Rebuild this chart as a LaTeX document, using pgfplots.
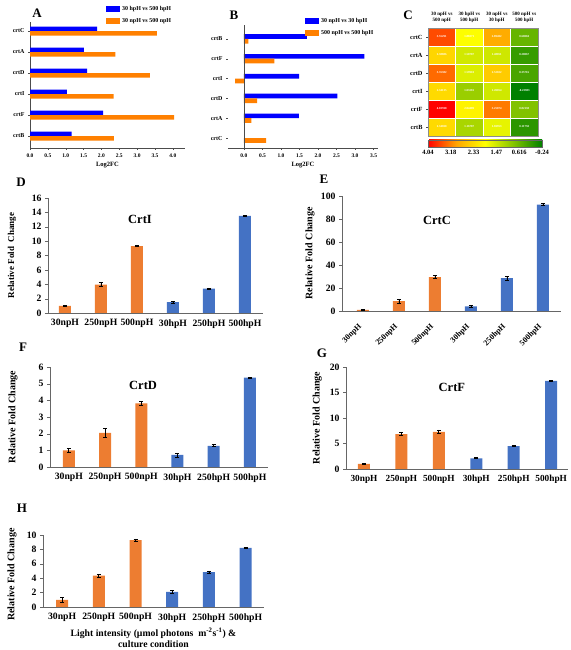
\documentclass[border=0pt]{standalone}
\usepackage{pgfplots}
\usepackage{pgfplotstable}
\pgfplotsset{compat=1.18}
\usepackage{fontspec}
\setmainfont{Liberation Serif}
\definecolor{xlorange}{RGB}{237,125,49}
\definecolor{xlblue}{RGB}{68,114,196}
\definecolor{pblue}{RGB}{0,0,255}
\definecolor{porange}{RGB}{255,128,0}

% rows: 0 crtC, 1 crtA, 2 crtD, 3 crtI, 4 crtF, 5 crtB (top to bottom)
\pgfplotstableread{
x y c t
0 0 3.55291 3.55291
1 0 1.88271 1.88271
2 0 2.89402 2.89402
3 0 0.60004 0.60004
0 1 2.38886 2.38886
1 1 1.50787 1.50787
2 1 1.48051 1.48051
3 1 0.20067 0.20067
0 2 3.35382 3.35382
1 2 1.59910 1.59910
2 2 2.52022 2.52022
3 2 0.35716 0.35716
0 3 2.34135 2.34135
1 3 1.03281 1.03281
2 3 1.49054 1.49054
3 3 -0.23983 -0.23983
0 4 4.03590 4.03590
1 4 2.04489 2.04489
2 4 3.25074 3.25074
3 4 0.82138 0.82138
0 5 2.34690 2.34690
1 5 1.16787 1.16787
2 5 1.69953 1.69953
3 5 0.11750 0.11750
}\heatdata

\pgfplotsset{
  /pgf/number format/assume math mode=true,
  smallpanel/.style={
    scale only axis, anchor=south west,
    axis lines=left, x axis line style={-,black!70}, y axis line style={-,black!70},
    tick align=outside, major tick length=2pt, minor tick length=1pt,
    tick style={black!70},
    tick label style={font=\fontsize{5.5}{6}\selectfont\bfseries},
    xticklabel style={/pgf/number format/.cd, fixed, fixed zerofill, precision=1},
    yticklabel style={font=\fontsize{6}{6}\selectfont\bfseries},
    xlabel={Log2FC}, xlabel style={font=\fontsize{6.5}{7}\selectfont\bfseries, yshift=2pt},
    ytick={0,...,5}, minor x tick num=1,
    legend style={draw=none, fill=none, anchor=north west, inner sep=0pt,
      font=\fontsize{6}{6}\selectfont\bfseries, row sep=2pt},
    legend cell align=left,
    legend image code/.code={\fill[##1] (0pt,-3pt) rectangle (14pt,3pt);},
  },
  barpanel/.style={
    scale only axis, anchor=south west,
    axis lines=left, x axis line style={-,black!60}, y axis line style={-,black!60},
    tick align=outside, major tick length=3pt,
    ytick style={black!60}, xtick style={draw=none},
    ymin=0,
    xtick={0,...,5},
    xticklabels={30npH,250npH,500npH,30hpH,250hpH,500hpH},
    tick label style={font=\fontsize{9.7}{10}\selectfont\bfseries},
    ylabel={Relative Fold Change},
    ylabel style={font=\fontsize{10}{10}\selectfont\bfseries, anchor=center},
    error bars/error bar style={black, line width=0.8pt},
    error bars/error mark options={rotate=90, mark size=2pt, black, line width=0.8pt},
  },
  obar/.style={ybar, bar width=12pt, bar shift=0pt, fill=xlorange, draw=none,
    error bars/.cd, y dir=both, y explicit},
  bbar/.style={ybar, bar width=12pt, bar shift=0pt, fill=xlblue, draw=none,
    error bars/.cd, y dir=both, y explicit},
}

\begin{document}
\begin{tikzpicture}
\useasboundingbox (0,0) rectangle (570pt,650pt);

% ---------- Panel A ----------
\begin{axis}[smallpanel, at={(30pt,502pt)}, width=155pt, height=126pt,
  xmin=0, xmax=4.34, ymin=-0.57, ymax=5.43,
  xtick={0,0.5,...,4},
  yticklabels={crtB,crtF,crtI,crtD,crtA,crtC},
  legend style={at={(0.49,1.14)}}]
\addplot[xbar, bar width=4.5pt, bar shift=2.25pt, fill=pblue, draw=none]
  coordinates {(1.16787,0) (2.04489,1) (1.03281,2) (1.59910,3) (1.50787,4) (1.88271,5)};
\addplot[xbar, bar width=4.5pt, bar shift=-2.25pt, fill=porange, draw=none]
  coordinates {(2.34690,0) (4.03590,1) (2.34135,2) (3.35382,3) (2.38886,4) (3.55291,5)};
\legend{30 hpH vs 500 hpH, 30 npH vs 500 npH}
\end{axis}

% ---------- Panel B ----------
\begin{axis}[smallpanel, at={(228pt,502pt)}, width=150pt, height=123pt,
  xmin=-0.43, xmax=3.62, ymin=-0.5, ymax=5.7,
  y axis line style={draw=none},
  xtick={0,0.5,...,3.5},
  yticklabels={crtC,crtA,crtD,crtI,crtF,crtB},
  legend style={at={(0.513,1.07)}}]
\addplot[xbar, bar width=4.7pt, bar shift=2.35pt, fill=pblue, draw=none]
  coordinates {(1.48051,1) (2.52022,2) (1.49054,3) (3.25074,4) (1.69953,5)};
\addplot[xbar, bar width=4.7pt, bar shift=-2.35pt, fill=porange, draw=none]
  coordinates {(0.60004,0) (0.20067,1) (0.35716,2) (-0.23983,3) (0.82138,4) (0.11750,5)};
\legend{30 npH vs 30 hpH, 500 npH vs 500 hpH}
\draw[black!70] (axis cs:0,-0.5) -- (axis cs:0,5.7);
\end{axis}

% ---------- Panel C ----------
\begin{axis}[scale only axis, anchor=south west, at={(428pt,514pt)},
  width=110pt, height=108pt,
  xmin=-0.5, xmax=3.5, ymin=-0.5, ymax=5.5, y dir=reverse,
  axis on top, axis line style={black!45},
  colormap={heat}{rgb255(0cm)=(0,128,0); rgb255(1cm)=(130,195,0); rgb255(2cm)=(255,255,0); rgb255(3cm)=(255,165,0); rgb255(4cm)=(255,0,0)},
  point meta min=-0.24, point meta max=4.04,
  xtick={0,...,3},
  xticklabels={{30 npH vs\\500 npH},{30 hpH vs\\500 hpH},{30 npH vs\\30 hpH},{500 npH vs\\500 hpH}},
  xticklabel pos=right, xtick style={draw=none},
  xticklabel style={align=center, font=\fontsize{5}{5.5}\selectfont\bfseries},
  ytick={0,...,5}, yticklabels={crtC,crtA,crtD,crtI,crtF,crtB},
  ytick pos=left, tick align=outside, major tick length=2pt, ytick style={black!70},
  yticklabel style={font=\fontsize{6.3}{7}\selectfont\bfseries},
  colorbar horizontal,
  colorbar style={at={(0,-0.037)}, anchor=north west, scale only axis,
    width=114pt, height=7pt, x dir=reverse,
    xtick={4.04,3.184,2.328,1.472,0.616,-0.24},
    xticklabels={4.04,3.18,2.33,1.47,0.616,-0.24},
    xticklabel style={font=\fontsize{6.5}{7}\selectfont\bfseries},
    xtick style={draw=none}, axis line style={black!60}},
  ]
\addplot[matrix plot, mesh/cols=4, point meta=explicit, draw=white, line width=0.6pt]
  table[x=x, y=y, meta=c]{\heatdata};
\addplot[draw=none, mark=none, nodes near coords, point meta=explicit symbolic,
  every node near coord/.style={anchor=center, text=white, font=\fontsize{3}{3}\selectfont\bfseries}]
  table[x=x, y=y, meta=t]{\heatdata};
\end{axis}

% ---------- Panel D: CrtI ----------
\begin{axis}[barpanel, at={(48pt,337pt)}, width=215pt, height=115pt,
  xmin=-0.47, xmax=5.5, ymax=16, ytick={0,2,...,16},
  ylabel={Relative Fold\ \ Change},
  ylabel style={at={(axis description cs:-0.167,0.5)}, font=\fontsize{9}{9}\selectfont\bfseries}]
\addplot[obar] coordinates {(0,1.0) +- (0,0.12) (1,3.95) +- (0,0.3) (2,9.3) +- (0,0.1)};
\addplot[bbar] coordinates {(3,1.5) +- (0,0.12) (4,3.4) +- (0,0.08) (5,13.5) +- (0,0.06)};
\node[font=\fontsize{12.5}{13}\selectfont\bfseries] at (rel axis cs:0.428,0.81) {CrtI};
\end{axis}

% ---------- Panel E: CrtC ----------
\begin{axis}[barpanel, at={(342pt,339pt)}, width=219pt, height=115pt,
  xmin=-0.58, xmax=5.5, ymax=100, ytick={0,20,...,100},
  xticklabel style={yshift=-9pt, rotate=45, anchor=east, font=\fontsize{8}{8}\selectfont\bfseries},
  ylabel style={at={(axis description cs:-0.146,0.5)}}]
\addplot[obar] coordinates {(0,1.0) +- (0,0.3) (1,8.5) +- (0,1.5) (2,29.5) +- (0,1.5)};
\addplot[bbar] coordinates {(3,4.0) +- (0,1.0) (4,28.5) +- (0,1.5) (5,92.5) +- (0,1.0)};
\node[font=\fontsize{12.5}{13}\selectfont\bfseries] at (rel axis cs:0.434,0.79) {CrtC};
\end{axis}

% ---------- Panel F: CrtD ----------
\begin{axis}[barpanel, at={(50pt,183pt)}, width=218pt, height=100pt,
  xmin=-0.52, xmax=5.5, ymax=6, ytick={0,...,6},
  ylabel style={at={(axis description cs:-0.17,0.5)}}]
\addplot[obar] coordinates {(0,1.0) +- (0,0.12) (1,2.05) +- (0,0.25) (2,3.82) +- (0,0.12)};
\addplot[bbar] coordinates {(3,0.72) +- (0,0.12) (4,1.27) +- (0,0.06) (5,5.37) +- (0,0.03)};
\node[font=\fontsize{12.5}{13}\selectfont\bfseries] at (rel axis cs:0.427,0.82) {CrtD};
\end{axis}

% ---------- Panel G: CrtF ----------
\begin{axis}[barpanel, at={(346pt,181pt)}, width=222pt, height=102pt,
  xmin=-0.48, xmax=5.45, ymax=20, ytick={0,5,...,20},
  xticklabel style={font=\fontsize{9.3}{10}\selectfont\bfseries},
  ylabel style={at={(axis description cs:-0.13,0.5)}}]
\addplot[obar] coordinates {(0,1.0) +- (0,0.15) (1,6.85) +- (0,0.35) (2,7.3) +- (0,0.35)};
\addplot[bbar] coordinates {(3,2.1) +- (0,0.12) (4,4.5) +- (0,0.15) (5,17.3) +- (0,0.05)};
\node[font=\fontsize{12.5}{13}\selectfont\bfseries] at (rel axis cs:0.477,0.80) {CrtF};
\end{axis}

% ---------- Panel H: CrtA ----------
\begin{axis}[barpanel, at={(43pt,43pt)}, width=221pt, height=72pt,
  xmin=-0.52, xmax=5.5, ymax=10, ytick={0,2,...,10},
  ylabel style={at={(axis description cs:-0.14,0.45)}},
  xlabel={Light intensity (µmol photons\ \ m\textsuperscript{-2}s\textsuperscript{-1}) \&\\culture condition},
  xlabel style={align=center, font=\fontsize{9.7}{11}\selectfont\bfseries, yshift=1pt}]
\addplot[obar] coordinates {(0,1.0) +- (0,0.3) (1,4.35) +- (0,0.2) (2,9.3) +- (0,0.15)};
\addplot[bbar] coordinates {(3,2.1) +- (0,0.25) (4,4.85) +- (0,0.15) (5,8.2) +- (0,0.06)};
\node[font=\fontsize{12.5}{13}\selectfont\bfseries] at (rel axis cs:0.43,1.125) {CrtA};
\end{axis}

% ---------- panel letters ----------
\begin{scope}[every node/.style={font=\fontsize{13}{13}\selectfont\bfseries}]
\node at (37pt,637pt) {A};
\node at (234pt,635pt) {B};
\node at (408pt,635pt) {C};
\node at (21pt,468pt) {D};
\node at (324pt,471pt) {E};
\node at (23pt,303pt) {F};
\node at (322pt,297pt) {G};
\node at (22pt,142pt) {H};
\end{scope}
\end{tikzpicture}
\end{document}
